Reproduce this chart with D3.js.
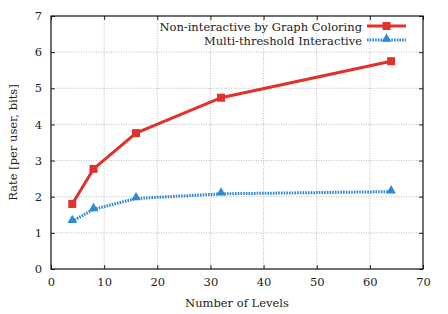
<!DOCTYPE html>
<html>
<head>
<meta charset="utf-8">
<script src="https://cdn.jsdelivr.net/npm/d3@7"></script>
<style>
    body { margin: 0; background: #fff; }
    svg text { font-family: "DejaVu Serif", serif; fill: #222; }
    .grid line { stroke: #aaa; stroke-width: 0.8; stroke-dasharray: 1,1.5; }
</style>
</head>
<body>
<svg id="chart" width="448" height="314"></svg>
<script>
(function(){
    'use strict';

    // x values (number of levels)
    var levels = [4, 8, 16, 32, 64];

    // rate per user, bits
    var graphColoring = [1.80, 2.77, 3.76, 4.74, 5.75];
    var multiThreshold = [1.32, 1.65, 1.95, 2.08, 2.14];

    var seriesNames = ['Non-interactive by Graph Coloring', 'Multi-threshold Interactive'];

    var xTicks = [0, 10, 20, 30, 40, 50, 60, 70];
    var yTicks = [0, 1, 2, 3, 4, 5, 6, 7];

    var margin = { left: 51, right: 25, top: 16, bottom: 45 };
    var width = 448, height = 314;
    var fontFamily = '"DejaVu Serif", serif';
    var fontSize = '11.5px';

    var svg = d3.select('#chart');

    var xScale = d3.scaleLinear()
        .domain([0, 70])
        .range([margin.left, width - margin.right]);

    var yScale = d3.scaleLinear()
        .domain([0, 7])
        .range([height - margin.bottom, margin.top]);

    //Grid lines
    var grid = svg.append('g').attr('class', 'grid');
    grid.selectAll('line.gx')
        .data(xTicks.slice(1, -1))
        .enter().append('line')
        .attr('x1', function(d) { return xScale(d); })
        .attr('x2', function(d) { return xScale(d); })
        .attr('y1', yScale(0))
        .attr('y2', yScale(7));
    grid.selectAll('line.gy')
        .data(yTicks.slice(1, -1))
        .enter().append('line')
        .attr('x1', xScale(0))
        .attr('x2', xScale(70))
        .attr('y1', function(d) { return yScale(d); })
        .attr('y2', function(d) { return yScale(d); });

    //Axes: ticks point inwards, mirrored on the opposite side
    function styleAxis(g) {
        g.attr('font-family', fontFamily).attr('font-size', fontSize);
        g.select('.domain').remove();
        g.selectAll('.tick line').attr('stroke', '#222').attr('stroke-width', 1);
        g.selectAll('.tick text').attr('fill', '#222');
    }

    var fmt = d3.format('d');

    svg.append('g')
        .attr('transform', 'translate(0,' + yScale(0) + ')')
        .call(d3.axisBottom(xScale).tickValues(xTicks).tickFormat(fmt).tickSize(-4).tickPadding(9))
        .call(styleAxis);
    svg.append('g')
        .attr('transform', 'translate(0,' + yScale(7) + ')')
        .call(d3.axisTop(xScale).tickValues(xTicks).tickSize(-4).tickFormat(''))
        .call(styleAxis);
    svg.append('g')
        .attr('transform', 'translate(' + xScale(0) + ',0)')
        .call(d3.axisLeft(yScale).tickValues(yTicks).tickFormat(fmt).tickSize(-4).tickPadding(9))
        .call(styleAxis);
    svg.append('g')
        .attr('transform', 'translate(' + xScale(70) + ',0)')
        .call(d3.axisRight(yScale).tickValues(yTicks).tickSize(-4).tickFormat(''))
        .call(styleAxis);

    //Frame
    svg.append('rect')
        .attr('x', xScale(0))
        .attr('y', yScale(7))
        .attr('width', xScale(70) - xScale(0))
        .attr('height', yScale(0) - yScale(7))
        .attr('fill', 'none')
        .attr('stroke', '#111')
        .attr('stroke-width', 1.2);

    var line = d3.line()
        .x(function(d) { return xScale(d[0]); })
        .y(function(d) { return yScale(d[1]); });

    var red = '#e0312b', blue = '#2e8ad6';
    var redData = d3.zip(levels, graphColoring);
    var blueData = d3.zip(levels, multiThreshold);

    svg.append('path')
        .datum(blueData)
        .attr('d', line)
        .attr('fill', 'none')
        .attr('stroke', blue)
        .attr('stroke-width', 3)
        .attr('stroke-dasharray', '1.6,1.1');

    svg.append('path')
        .datum(redData)
        .attr('d', line)
        .attr('fill', 'none')
        .attr('stroke', red)
        .attr('stroke-width', 3);

    var square = d3.symbol().type(d3.symbolSquare).size(64);
    var triangle = d3.symbol().type(d3.symbolTriangle).size(40);

    svg.selectAll('path.sq')
        .data(redData)
        .enter().append('path')
        .attr('class', 'sq')
        .attr('d', square)
        .attr('transform', function(d) { return 'translate(' + xScale(d[0]) + ',' + yScale(d[1]) + ')'; })
        .attr('fill', red);

    svg.selectAll('path.tri')
        .data(blueData)
        .enter().append('path')
        .attr('class', 'tri')
        .attr('d', triangle)
        .attr('transform', function(d) { return 'translate(' + xScale(d[0]) + ',' + (yScale(d[1]) - 1) + ')'; })
        .attr('fill', blue);

    //Legend
    var legend = svg.append('g');
    var rows = [
        { name: seriesNames[0], color: red, dash: null, marker: square, y: 26 },
        { name: seriesNames[1], color: blue, dash: '1.6,1.1', marker: triangle, y: 40 }
    ];
    rows.forEach(function(r) {
        legend.append('text')
            .attr('x', 362)
            .attr('y', r.y + 4.5)
            .attr('text-anchor', 'end')
            .style('font-size', fontSize)
            .text(r.name);
        legend.append('line')
            .attr('x1', 367).attr('x2', 406)
            .attr('y1', r.y).attr('y2', r.y)
            .attr('stroke', r.color)
            .attr('stroke-width', 3)
            .attr('stroke-dasharray', r.dash);
        legend.append('path')
            .attr('d', r.marker)
            .attr('transform', 'translate(386.5,' + (r.y - (r.dash ? 1 : 0)) + ')')
            .attr('fill', r.color);
    });

    //Axis titles
    svg.append('text')
        .attr('x', (xScale(0) + xScale(70)) / 2)
        .attr('y', 307)
        .attr('text-anchor', 'middle')
        .style('font-size', fontSize)
        .text('Number of Levels');

    svg.append('text')
        .attr('transform', 'translate(17,' + ((yScale(0) + yScale(7)) / 2) + ') rotate(-90)')
        .attr('text-anchor', 'middle')
        .style('font-size', fontSize)
        .text('Rate [per user, bits]');
})();
</script>
</body>
</html>
